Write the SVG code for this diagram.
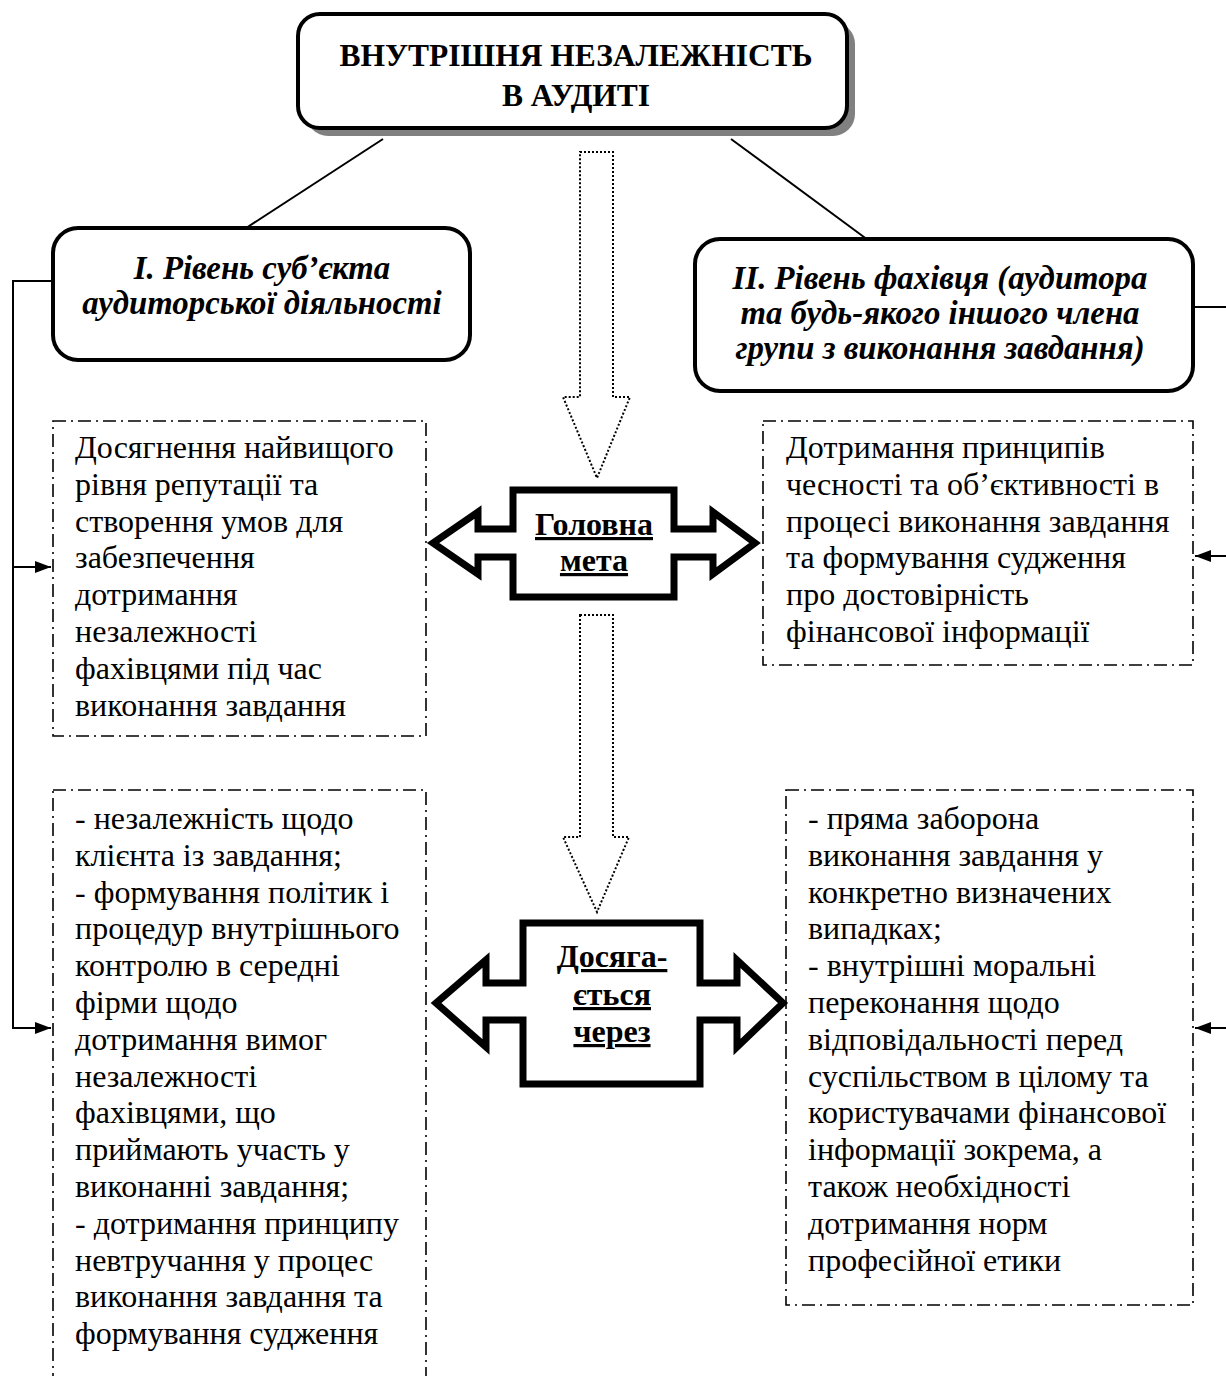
<svg xmlns="http://www.w3.org/2000/svg" width="1226" height="1376" viewBox="0 0 1226 1376">
<style>
text{font-family:"Liberation Serif","Times New Roman",serif;fill:#000}
.body{font-size:32px}
.title{font-size:31.5px;font-weight:bold}
.lvl{font-size:32.8px;font-weight:bold;font-style:italic}
.mid{font-size:32px;font-weight:bold;text-decoration:underline}
.rbox{fill:#fff;stroke:#000;stroke-width:4}
.dd{fill:none;stroke:#000;stroke-width:1.6;stroke-dasharray:13 5 2 5}
.dot{fill:#fff;stroke:#000;stroke-width:2;stroke-dasharray:2 2}
.dbl{fill:#fff;stroke:#000;stroke-width:7;stroke-linejoin:miter}
.conn{fill:none;stroke:#000;stroke-width:2}
</style>
<defs>
<marker id="ah" viewBox="0 0 16 12" refX="16" refY="6" markerWidth="16" markerHeight="12" markerUnits="userSpaceOnUse" orient="auto">
<path d="M0,0 L16,6 L0,12 Z" fill="#000"/>
</marker>
</defs>
<rect width="1226" height="1376" fill="#fff"/>

<g id="connectors">
<line class="conn" x1="383" y1="139" x2="243" y2="230"/>
<line class="conn" x1="731" y1="139" x2="868" y2="240"/>
<polyline class="conn" points="53,281 13,281 13,1028 51,1028" marker-end="url(#ah)"/>
<line class="conn" x1="13" y1="567" x2="51" y2="567" marker-end="url(#ah)"/>
<line class="conn" x1="1193" y1="307" x2="1226" y2="307"/>
<line class="conn" x1="1226" y1="556" x2="1195" y2="556" marker-end="url(#ah)"/>
<line class="conn" x1="1226" y1="1028" x2="1195" y2="1028" marker-end="url(#ah)"/>
</g>

<g id="title">
<rect x="306" y="22" width="549" height="114" rx="22" fill="#808080"/>
<rect class="rbox" x="298" y="14" width="549" height="114" rx="22" stroke-width="5"/>
<text class="title" x="576" y="66" text-anchor="middle">ВНУТРІШНЯ НЕЗАЛЕЖНІСТЬ</text>
<text class="title" x="576" y="106" text-anchor="middle">В АУДИТІ</text>
</g>

<g id="level1">
<rect class="rbox" x="53" y="228" width="417" height="132" rx="25"/>
<text class="lvl" x="262" y="279" text-anchor="middle">I. Рівень суб’єкта</text>
<text class="lvl" x="262" y="314" text-anchor="middle">аудиторської діяльності</text>
</g>

<g id="level2">
<rect class="rbox" x="695" y="239" width="498" height="152" rx="25"/>
<text class="lvl" x="940" y="289" text-anchor="middle">II. Рівень фахівця (аудитора</text>
<text class="lvl" x="940" y="324" text-anchor="middle">та будь-якого іншого члена</text>
<text class="lvl" x="940" y="359" text-anchor="middle">групи з виконання завдання)</text>
</g>

<g id="arrow-down-1">
<polygon class="dot" points="580,152 613,152 613,397 630,397 597,478 563,397 580,397"/>
</g>

<g id="arrow-down-2">
<polygon class="dot" points="580,615 613,615 613,837 629,837 597,912 563,837 580,837"/>
</g>

<g id="main-goal">
<path class="dbl" d="M513,490 H674 V529 H713 V512 L755,543 L713,574 V557 H674 V597 H513 V557 H478 V574 L433,543 L478,512 V529 H513 Z"/>
<text class="mid" x="594" y="535" text-anchor="middle">Головна</text>
<text class="mid" x="594" y="571" text-anchor="middle">мета</text>
</g>

<g id="achieved-through">
<path class="dbl" d="M523,923 H700 V983 H737 V960 L783,1003 L737,1047 V1020 H700 V1084 H523 V1020 H486 V1047 L436,1003 L486,960 V983 H523 Z"/>
<text class="mid" x="612" y="967" text-anchor="middle">Досяга-</text>
<text class="mid" x="612" y="1005" text-anchor="middle">ється</text>
<text class="mid" x="612" y="1042" text-anchor="middle">через</text>
</g>

<g id="goal-entity">
<rect class="dd" x="53" y="421" width="373" height="315"/>
<text class="body" x="75" y="458">Досягнення найвищого</text>
<text class="body" x="75" y="494.8">рівня репутації та</text>
<text class="body" x="75" y="531.6">створення умов для</text>
<text class="body" x="75" y="568.4">забезпечення</text>
<text class="body" x="75" y="605.2">дотримання</text>
<text class="body" x="75" y="642">незалежності</text>
<text class="body" x="75" y="678.8">фахівцями під час</text>
<text class="body" x="75" y="715.6">виконання завдання</text>
</g>

<g id="goal-specialist">
<rect class="dd" x="763" y="421" width="430" height="244"/>
<text class="body" x="786" y="458">Дотримання принципів</text>
<text class="body" x="786" y="494.8">чесності та об’єктивності в</text>
<text class="body" x="786" y="531.6">процесі виконання завдання</text>
<text class="body" x="786" y="568.4">та формування судження</text>
<text class="body" x="786" y="605.2">про достовірність</text>
<text class="body" x="786" y="642">фінансової інформації</text>
</g>

<g id="means-entity">
<rect class="dd" x="53" y="790" width="373" height="600"/>
<text class="body" x="75" y="829">- незалежність щодо</text>
<text class="body" x="75" y="865.8">клієнта із завдання;</text>
<text class="body" x="75" y="902.6">- формування політик і</text>
<text class="body" x="75" y="939.4">процедур внутрішнього</text>
<text class="body" x="75" y="976.2">контролю в середні</text>
<text class="body" x="75" y="1013">фірми щодо</text>
<text class="body" x="75" y="1049.8">дотримання вимог</text>
<text class="body" x="75" y="1086.6">незалежності</text>
<text class="body" x="75" y="1123.4">фахівцями, що</text>
<text class="body" x="75" y="1160.2">приймають участь у</text>
<text class="body" x="75" y="1197">виконанні завдання;</text>
<text class="body" x="75" y="1233.8">- дотримання принципу</text>
<text class="body" x="75" y="1270.6">невтручання у процес</text>
<text class="body" x="75" y="1307.4">виконання завдання та</text>
<text class="body" x="75" y="1344.2">формування судження</text>
</g>

<g id="means-specialist">
<rect class="dd" x="786" y="790" width="407" height="515"/>
<text class="body" x="808" y="829">- пряма заборона</text>
<text class="body" x="808" y="865.8">виконання завдання у</text>
<text class="body" x="808" y="902.6">конкретно визначених</text>
<text class="body" x="808" y="939.4">випадках;</text>
<text class="body" x="808" y="976.2">- внутрішні моральні</text>
<text class="body" x="808" y="1013">переконання щодо</text>
<text class="body" x="808" y="1049.8">відповідальності перед</text>
<text class="body" x="808" y="1086.6">суспільством в цілому та</text>
<text class="body" x="808" y="1123.4">користувачами фінансової</text>
<text class="body" x="808" y="1160.2">інформації зокрема, а</text>
<text class="body" x="808" y="1197">також необхідності</text>
<text class="body" x="808" y="1233.8">дотримання норм</text>
<text class="body" x="808" y="1270.6">професійної етики</text>
</g>
</svg>
